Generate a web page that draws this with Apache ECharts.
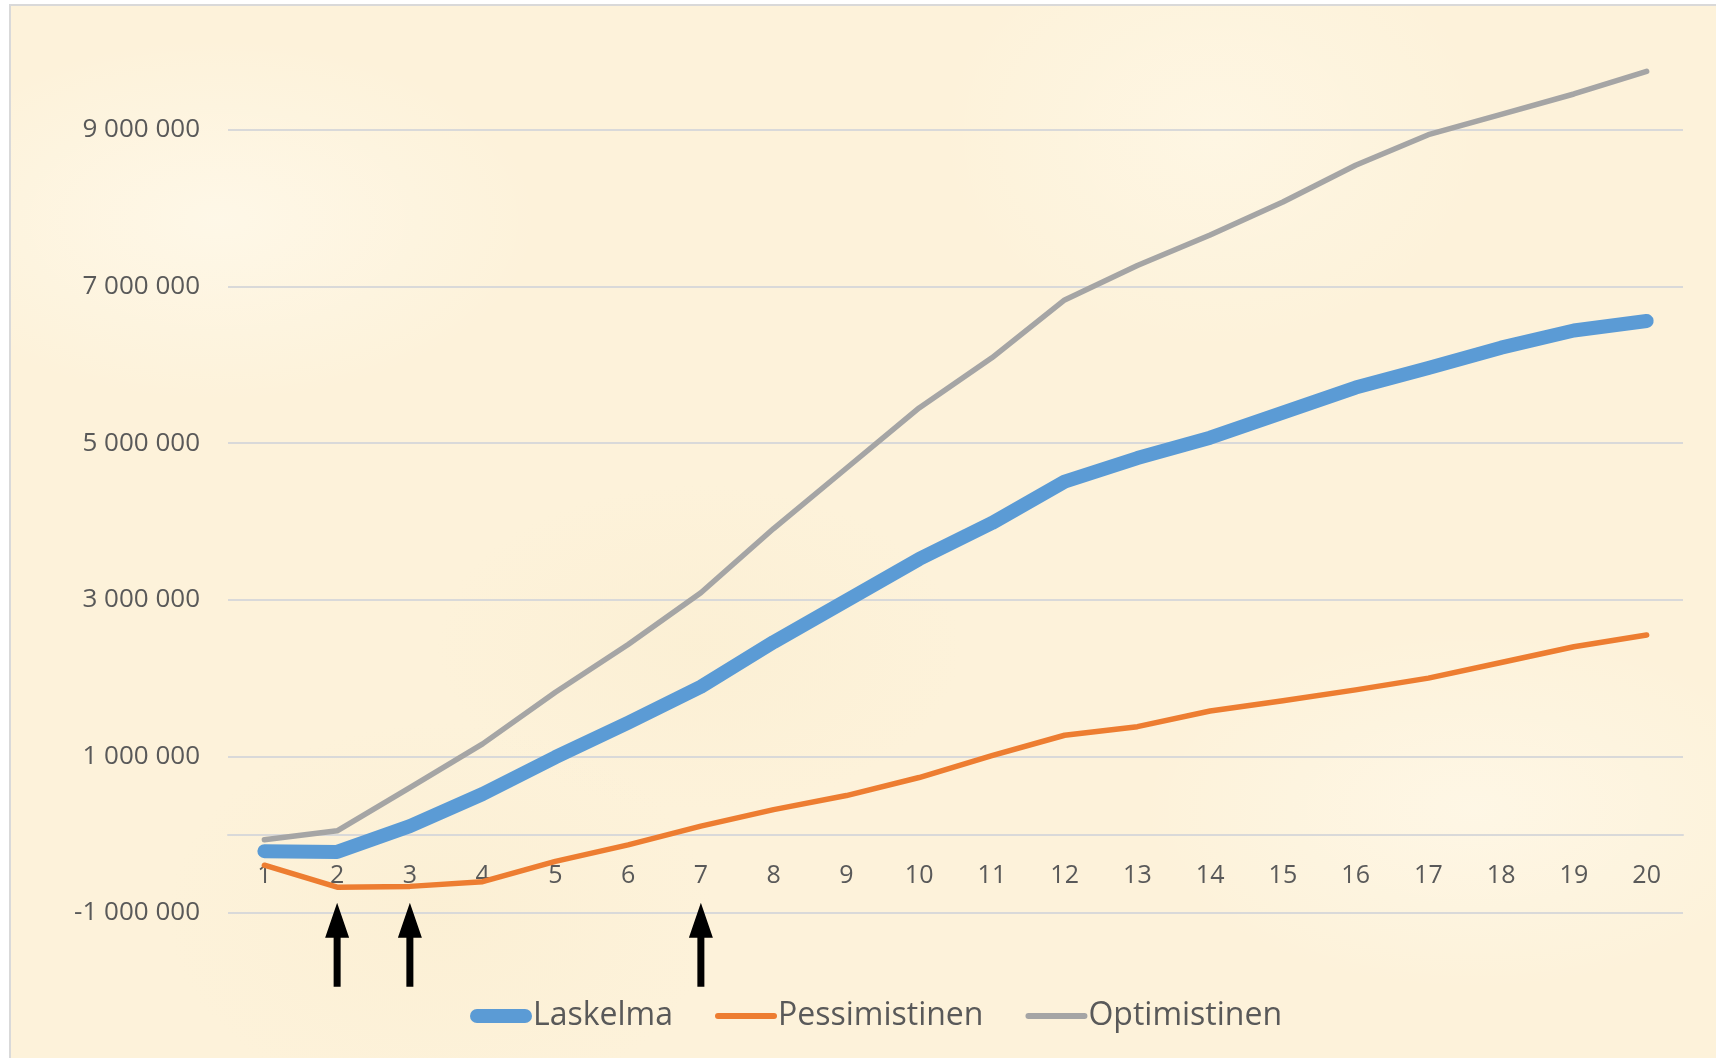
<!DOCTYPE html>
<html lang="fi">
<head>
<meta charset="utf-8" />
<title>Laskelma</title>
<style>
  html, body { margin: 0; padding: 0; background: #ffffff; }
  .paper {
    position: absolute; left: 9px; top: 4px; width: 1720px; height: 1070px;
    border-top: 2px solid #d9d9d9; border-left: 2px solid #d9d9d9;
    background-color: #fdf2da;
    background-image:
      radial-gradient(ellipse at 12% 20%, rgba(255,251,240,0.6) 0, rgba(255,251,240,0) 15%),
      radial-gradient(ellipse at 70% 12%, rgba(255,250,236,0.5) 0, rgba(255,250,236,0) 16%),
      radial-gradient(ellipse at 40% 60%, rgba(248,234,200,0.3) 0, rgba(248,234,200,0) 18%),
      radial-gradient(ellipse at 85% 75%, rgba(255,251,240,0.5) 0, rgba(255,251,240,0) 16%),
      radial-gradient(ellipse at 25% 85%, rgba(248,234,200,0.3) 0, rgba(248,234,200,0) 15%);
  }
  #main { position: absolute; left: 0; top: 0; width: 1716px; height: 1058px; }
</style>
</head>
<body>
<div class="paper"></div>
<div id="main"></div>

<script src="https://cdn.jsdelivr.net/npm/echarts@6/dist/echarts.min.js"></script>
<script>
// vuodet 1..20
var categories = ['1','2','3','4','5','6','7','8','9','10','11','12','13','14','15','16','17','18','19','20'];

var laskelma = [-210000, -220000, 110000, 520000, 990000, 1430000, 1890000, 2460000, 2990000, 3520000,
                3980000, 4510000, 4810000, 5070000, 5390000, 5710000, 5960000, 6220000, 6440000, 6560000];

var pessimistinen = [-390000, -670000, -660000, -600000, -340000, -130000, 110000, 320000, 500000, 730000,
                     1010000, 1270000, 1380000, 1580000, 1710000, 1850000, 2000000, 2200000, 2400000, 2550000];

var optimistinen = [-65000, 50000, 600000, 1160000, 1820000, 2430000, 3090000, 3910000, 4680000, 5450000,
                    6090000, 6830000, 7270000, 7660000, 8080000, 8550000, 8940000, 9200000, 9460000, 9750000];

// nuolet x-akselin alla
var arrowCats = ['2', '3', '7'];
var arrowValue = -1405000;

var fontFamily = '"Open Sans", "Noto Sans", sans-serif';
var textColor = '#595959';

function spaced(v) {
  return String(v).replace(/\B(?=(\d{3})+(?!\d))/g, ' ');
}

var chart = echarts.init(document.getElementById('main'));

var option = {
  animation: false,
  grid: { left: 228, right: 33, top: 130, bottom: 145 },
  legend: {
    top: 995,
    left: 465,
    itemWidth: 62,
    itemHeight: 16,
    itemGap: 42,
    textStyle: { fontFamily: fontFamily, fontSize: 32, color: textColor, padding: [0, 0, 0, -4] },
    data: [
      { name: 'Laskelma', icon: 'path://M7,0 L55,0 A7,7 0 0 1 55,14 L7,14 A7,7 0 0 1 7,0 Z' },
      { name: 'Pessimistinen', icon: 'path://M3,0 L59,0 A3,3 0 0 1 59,6 L3,6 A3,3 0 0 1 3,0 Z' },
      { name: 'Optimistinen', icon: 'path://M3,0 L59,0 A3,3 0 0 1 59,6 L3,6 A3,3 0 0 1 3,0 Z' }
    ]
  },
  xAxis: {
    type: 'category',
    data: categories,
    boundaryGap: true,
    axisLine: { onZero: true, lineStyle: { color: '#d9d9d9', width: 2 } },
    axisTick: { show: false },
    // labels sit just under the zero line, like in the original
    axisLabel: { margin: -50, fontFamily: fontFamily, fontSize: 25, color: textColor }
  },
  yAxis: {
    type: 'value',
    min: -1000000,
    max: 9000000,
    interval: 2000000,
    axisLine: { show: false },
    axisTick: { show: false },
    axisLabel: {
      margin: 28,
      fontFamily: fontFamily,
      fontSize: 26,
      color: textColor,
      formatter: spaced
    },
    splitLine: { lineStyle: { color: '#d9d9d9', width: 2 } }
  },
  series: [
    {
      name: 'Laskelma',
      type: 'line',
      data: laskelma,
      color: '#5b9bd5',
      showSymbol: false,
      clip: false,
      lineStyle: { width: 14, cap: 'round', join: 'round' }
    },
    {
      name: 'Pessimistinen',
      type: 'line',
      data: pessimistinen,
      color: '#ed7d31',
      showSymbol: false,
      clip: false,
      lineStyle: { width: 5.5, cap: 'round', join: 'round' }
    },
    {
      name: 'Optimistinen',
      type: 'line',
      data: optimistinen,
      color: '#a5a5a5',
      showSymbol: false,
      clip: false,
      lineStyle: { width: 5.5, cap: 'round', join: 'round' }
    },
    {
      name: 'nuolet',
      type: 'scatter',
      data: arrowCats.map(function (c) { return [c, arrowValue]; }),
      symbol: 'path://M12,0 L24,35 L15.5,35 L15.5,84 L8.5,84 L8.5,35 L0,35 Z',
      symbolSize: [24, 84],
      itemStyle: { color: '#000000', opacity: 1 },
      clip: false,
      silent: true
    }
  ]
};

chart.setOption(option);
</script>
</body>
</html>
